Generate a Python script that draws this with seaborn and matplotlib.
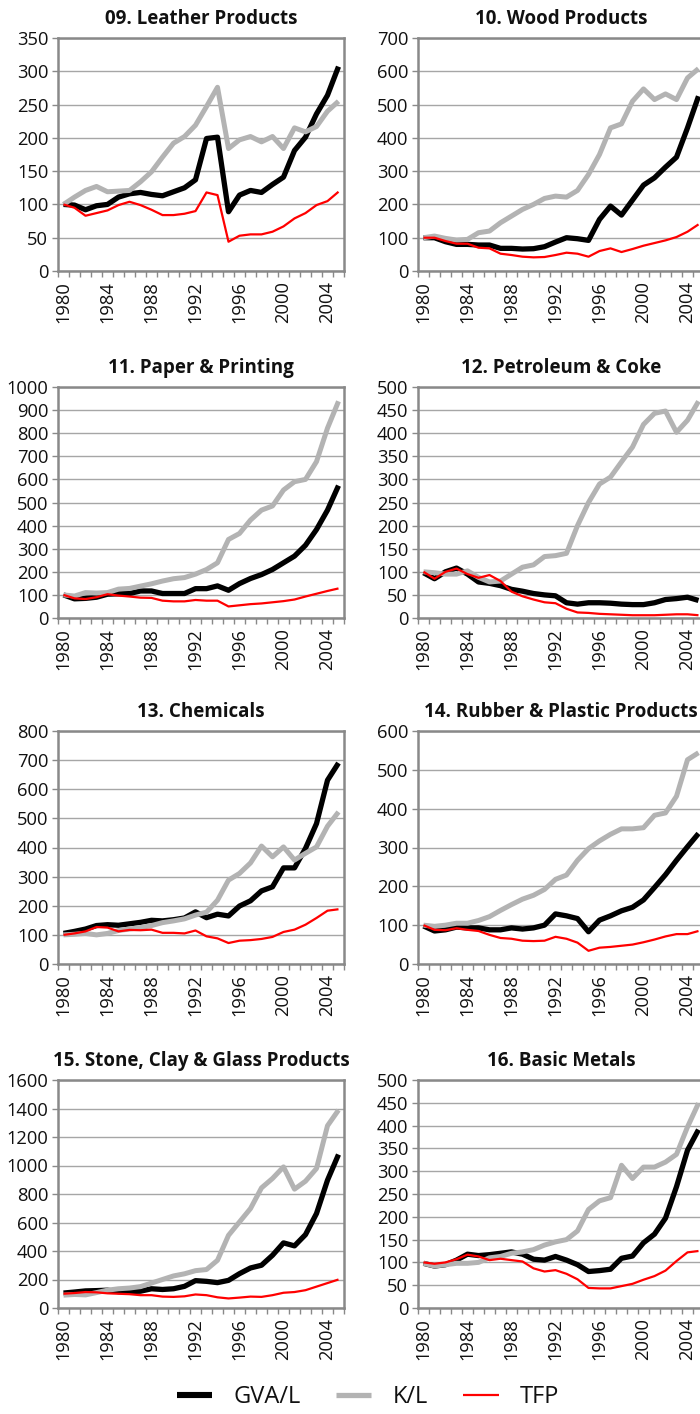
import matplotlib
matplotlib.use("Agg")
import matplotlib.pyplot as plt
import seaborn as sns
import pandas as pd
import numpy as np
from matplotlib.lines import Line2D
from matplotlib.ticker import FixedLocator

# ---------------- data ----------------
years = list(range(1980, 2006))
series_names = ["GVA/L", "K/L", "TFP"]
x_tick_labels = ["1980", "1984", "1988", "1992", "1996", "2000", "2004"]

titles = ["09. Leather Products", "10. Wood Products", "11. Paper & Printing",
          "12. Petroleum & Coke", "13. Chemicals", "14. Rubber & Plastic Products",
          "15. Stone, Clay & Glass Products", "16. Basic Metals"]

leather_gva = [100, 99, 92, 98, 100, 111, 116, 118, 115, 113, 119, 125, 137, 199, 201, 89,
               114, 121, 118, 130, 141, 181, 201, 236, 264, 307]
leather_kl = [100, 111, 121, 127, 119, 120, 121, 134, 149, 171, 192, 202, 219, 247, 276, 184,
              197, 202, 194, 202, 184, 215, 209, 217, 240, 255]
leather_tfp = [100, 95, 83, 87, 91, 99, 104, 99, 92, 84, 84, 86, 90, 118, 114, 44,
               53, 55, 55, 59, 67, 79, 87, 99, 105, 119]

wood_gva = [100, 100, 88, 80, 80, 78, 78, 68, 68, 66, 67, 73, 87, 100, 97, 92,
            155, 195, 168, 213, 258, 280, 312, 342, 430, 525]
wood_kl = [100, 105, 98, 93, 95, 115, 120, 145, 165, 185, 200, 218, 225, 222, 242, 290,
           350, 430, 442, 510, 547, 515, 532, 515, 580, 608]
wood_tfp = [100, 100, 90, 82, 82, 70, 68, 52, 48, 43, 41, 42, 48, 55, 52, 43,
            60, 68, 57, 66, 76, 84, 92, 102, 118, 140]

paper_gva = [100, 83, 85, 90, 103, 105, 106, 117, 117, 106, 106, 106, 127, 127, 139, 120,
             149, 171, 188, 210, 239, 268, 315, 383, 467, 573]
paper_kl = [100, 95, 110, 108, 110, 125, 128, 138, 148, 160, 170, 175, 190, 210, 239, 340,
            366, 424, 467, 485, 554, 590, 600, 677, 822, 938]
paper_tfp = [100, 85, 82, 90, 103, 97, 93, 88, 87, 75, 72, 72, 78, 75, 75, 50,
             55, 60, 63, 68, 73, 80, 93, 105, 117, 128]

petrol_gva = [98, 85, 100, 108, 95, 78, 75, 70, 62, 58, 53, 50, 48, 33, 30, 33,
              33, 32, 30, 29, 29, 33, 40, 42, 45, 38]
petrol_kl = [100, 98, 95, 95, 102, 88, 78, 80, 95, 110, 115, 133, 135, 140, 200, 250,
             290, 305, 338, 370, 419, 443, 448, 402, 428, 469]
petrol_tfp = [100, 85, 100, 107, 95, 87, 93, 80, 57, 47, 40, 34, 32, 20, 12, 11,
              9, 8, 7, 6, 6, 6, 7, 8, 8, 6]

chem_gva = [105, 112, 120, 132, 135, 133, 138, 143, 150, 148, 152, 158, 179, 159, 171, 165,
            199, 217, 251, 265, 330, 330, 397, 482, 631, 690]
chem_kl = [100, 102, 105, 100, 105, 115, 120, 125, 132, 142, 148, 155, 168, 178, 219, 288,
           311, 347, 405, 368, 402, 357, 380, 402, 473, 522]
chem_tfp = [100, 105, 112, 127, 125, 112, 117, 116, 118, 107, 107, 105, 115, 95, 88, 72,
            80, 82, 86, 93, 110, 118, 135, 158, 183, 188]

rubber_gva = [98, 85, 88, 95, 93, 93, 88, 88, 93, 90, 93, 100, 129, 124, 117, 83,
              113, 124, 137, 146, 165, 197, 230, 267, 302, 336]
rubber_kl = [100, 97, 100, 105, 105, 112, 122, 138, 153, 167, 177, 192, 218, 229, 267, 297,
             317, 334, 348, 348, 351, 383, 389, 432, 526, 544]
rubber_tfp = [100, 88, 87, 92, 88, 85, 75, 67, 65, 60, 59, 60, 70, 65, 55, 34,
              42, 44, 47, 50, 56, 63, 71, 77, 77, 85]

stone_gva = [105, 112, 120, 122, 125, 115, 115, 118, 135, 130, 135, 152, 192, 187, 178, 194,
             241, 281, 300, 370, 457, 436, 515, 663, 897, 1077]
stone_kl = [90, 95, 92, 108, 125, 135, 140, 150, 175, 200, 225, 240, 262, 270, 335, 510,
            604, 698, 843, 909, 990, 834, 890, 979, 1279, 1389]
stone_tfp = [100, 105, 112, 110, 103, 100, 97, 90, 90, 80, 78, 82, 95, 90, 75, 67,
             73, 80, 78, 90, 107, 112, 125, 150, 175, 200]

metal_gva = [98, 92, 95, 105, 118, 115, 117, 120, 123, 118, 107, 105, 113, 105, 95, 80,
             82, 85, 109, 114, 143, 162, 197, 266, 346, 391]
metal_kl = [98, 92, 95, 98, 98, 100, 110, 113, 120, 123, 128, 138, 145, 150, 169, 216,
            235, 242, 313, 284, 309, 309, 320, 337, 397, 449]
metal_tfp = [100, 97, 100, 107, 117, 113, 105, 108, 105, 102, 87, 80, 83, 75, 63, 44,
             43, 43, 48, 53, 62, 70, 82, 103, 122, 125]

y_max = [350, 700, 1000, 500, 800, 600, 1600, 500]
y_step = [50, 100, 100, 50, 100, 100, 200, 50]

panel_data = [
    (leather_gva, leather_kl, leather_tfp),
    (wood_gva, wood_kl, wood_tfp),
    (paper_gva, paper_kl, paper_tfp),
    (petrol_gva, petrol_kl, petrol_tfp),
    (chem_gva, chem_kl, chem_tfp),
    (rubber_gva, rubber_kl, rubber_tfp),
    (stone_gva, stone_kl, stone_tfp),
    (metal_gva, metal_kl, metal_tfp),
]

# ---------------- style ----------------
sns.set_theme(style="white")
plt.rcParams['font.family'] = ['Open Sans', 'DejaVu Sans']
plt.rcParams['text.color'] = '#111111'
plt.rcParams['xtick.color'] = '#111111'
plt.rcParams['ytick.color'] = '#111111'

colors = {"GVA/L": "#000000", "K/L": "#b3b3b3", "TFP": "#ff0000"}
widths = {"GVA/L": 3.8, "K/L": 3.6, "TFP": 1.6}
spine_col = '#898989'
grid_col = '#a6a6a6'

W, H = 700, 1414
fig = plt.figure(figsize=(W / 100, H / 100), dpi=100)

col_left = [58, 418]
ax_w = 286
rows = [(38, 271), (387, 618), (731, 964), (1080, 1308)]

for i, (title, data) in enumerate(zip(titles, panel_data)):
    r, c = divmod(i, 2)
    top, bot = rows[r]
    left = col_left[c]
    ax = fig.add_axes([left / W, 1 - bot / H, ax_w / W, (bot - top) / H])
    df = pd.DataFrame({
        "year": years * 3,
        "value": list(data[0]) + list(data[1]) + list(data[2]),
        "series": sum([[s] * len(years) for s in series_names], []),
    })
    for s in series_names:
        sns.lineplot(data=df[df["series"] == s], x="year", y="value", ax=ax,
                     color=colors[s], linewidth=widths[s], legend=False,
                     errorbar=None, solid_joinstyle='round', solid_capstyle='butt')
    ax.set_xlim(1979.5, 2005.5)
    ax.set_ylim(0, y_max[i])
    ax.set_xticks([int(t) for t in x_tick_labels])
    ax.set_xticklabels(x_tick_labels, rotation=90)
    ax.xaxis.set_minor_locator(FixedLocator(np.arange(1979.5, 2006, 1.0)))
    ax.set_yticks(np.arange(0, y_max[i] + 1, y_step[i]))
    ax.tick_params(axis='x', which='major', length=0, pad=7, labelsize=13.2, bottom=True)
    ax.tick_params(axis='x', which='minor', length=4, width=1, color=spine_col,
                   direction='out', bottom=True)
    ax.tick_params(axis='y', which='major', length=4, width=1, color=spine_col,
                   direction='out', left=True, pad=3, labelsize=13.2)
    ax.grid(axis='y', color=grid_col, linewidth=1)
    ax.grid(axis='x', visible=False)
    ax.set_axisbelow(True)
    for sp in ax.spines.values():
        sp.set_visible(True)
        sp.set_color(spine_col)
        sp.set_linewidth(1.8)
    ax.set_xlabel("")
    ax.set_ylabel("")
    ax.set_title(title, fontsize=13.5, fontweight='bold', pad=10)

handles = [Line2D([], [], color=colors[s], linewidth=lw, solid_capstyle='butt')
           for s, lw in zip(series_names, [4.4, 3.8, 1.6])]
fig.legend(handles, series_names, loc='center', bbox_to_anchor=(368 / W, 1 - 1397 / H),
           ncol=3, frameon=False, fontsize=17, handlelength=1.5, handletextpad=0.9,
           columnspacing=1.5)

fig.savefig("out.png", dpi=100)
